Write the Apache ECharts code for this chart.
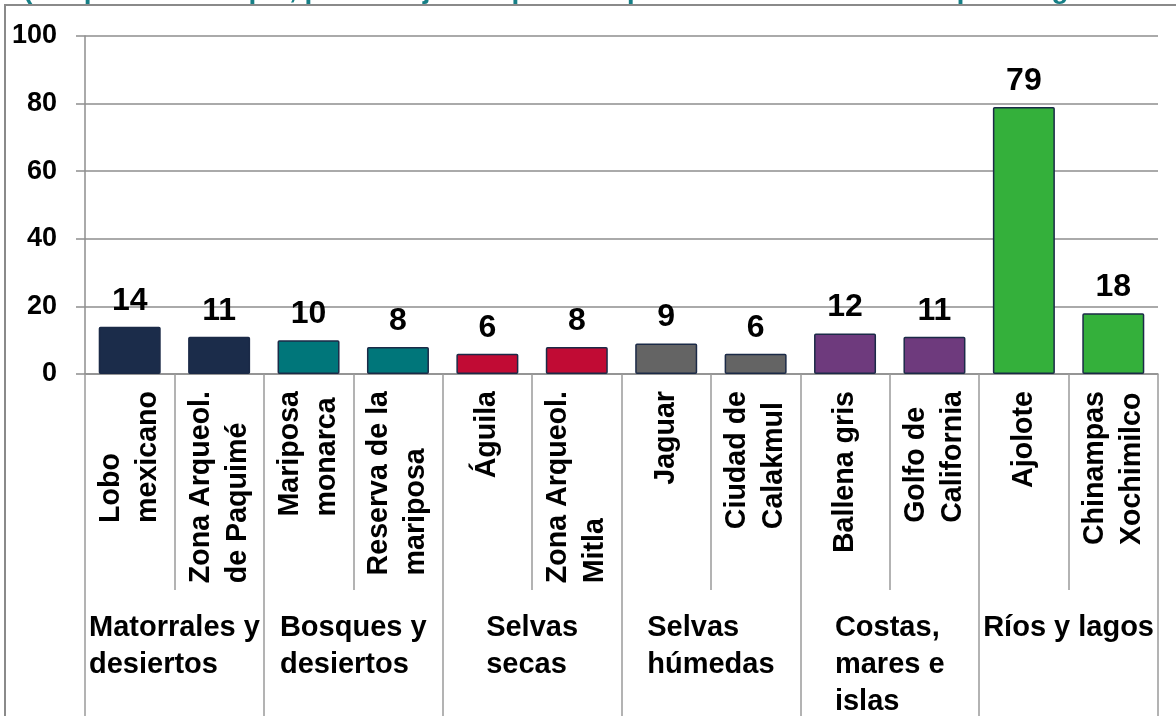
<!DOCTYPE html>
<html>
<head>
<meta charset="utf-8">
<script src="https://cdn.jsdelivr.net/npm/echarts@6/dist/echarts.min.js"></script>
<style>
  html, body { margin: 0; padding: 0; background: #fff; }
  #chart { width: 1176px; height: 716px; }
</style>
</head>
<body>
<div id="chart"></div>
<script>
const titleText = '(Respuesta múltiple, porcentajes respecto a quienes mencionaron lo que les gustaría conocer)';
const habitats = ['Matorrales y\ndesiertos', 'Bosques y\ndesiertos', 'Selvas\nsecas', 'Selvas\nhúmedas', 'Costas,\nmares e\nislas', 'Ríos y lagos'];
const items = [
  'Lobo\nmexicano', 'Zona Arqueol.\nde Paquimé',
  'Mariposa\nmonarca', 'Reserva de la\nmariposa',
  'Águila', 'Zona Arqueol.\nMitla',
  'Jaguar', 'Ciudad de\nCalakmul',
  'Ballena gris', 'Golfo de\nCalifornia',
  'Ajolote', 'Chinampas\nXochimilco'
];
const itemHabitat = [0, 0, 1, 1, 2, 2, 3, 3, 4, 4, 5, 5];
const values = [14, 11, 10, 8, 6, 8, 9, 6, 12, 11, 79, 18];
const yTicks = [0, 20, 40, 60, 80, 100];

// one colour per habitat
const habitatColors = ['#1b2c4a', '#00767a', '#c10b34', '#646464', '#6e3a7d', '#34b03b'];

const font = '"Liberation Sans", Arial, sans-serif';
const gridGray = '#8e8e8e';

// rich tokens so multi-line labels stay left aligned inside their block
const richLines = (tag) => (v) => v.split('\n').map(s => '{' + tag + '|' + s + '}').join('\n');

const chart = echarts.init(document.getElementById('chart'));
chart.setOption({
  animation: false,
  backgroundColor: '#fff',
  title: {
    text: titleText,
    left: 18,
    top: -29,
    textStyle: { color: '#167f86', fontSize: 28, fontWeight: 'bold', fontFamily: font }
  },
  graphic: [{
    type: 'rect',
    shape: { x: 5, y: 5, width: 1300, height: 900 },
    style: { fill: 'none', stroke: '#8a8a8a', lineWidth: 2 },
    silent: true
  }],
  grid: { left: 85, right: 18, top: 36, bottom: 342 },
  yAxis: {
    type: 'value',
    min: yTicks[0],
    max: yTicks[yTicks.length - 1],
    interval: 20,
    axisLine: { show: true, lineStyle: { color: gridGray, width: 1.5 } },
    axisTick: { show: true, length: 9, lineStyle: { color: gridGray, width: 1.5 } },
    splitLine: { show: true, lineStyle: { color: gridGray, width: 1.5 } },
    axisLabel: { color: '#000', fontSize: 27, fontWeight: 'bold', fontFamily: font, margin: 28 }
  },
  xAxis: [
    {
      type: 'category',
      data: items,
      position: 'bottom',
      axisLine: { show: true, lineStyle: { color: gridGray, width: 1.5 } },
      axisTick: { show: true, interval: 0, length: 216, lineStyle: { color: '#9a9a9a', width: 1.5 } },
      axisLabel: {
        interval: 0,
        rotate: 90,
        margin: 17,
        formatter: richLines('a'),
        rich: {
          a: { color: '#000', fontSize: 28.6, fontWeight: 'bold', fontFamily: font, lineHeight: 37, align: 'left' }
        }
      }
    },
    {
      type: 'category',
      data: habitats,
      position: 'bottom',
      axisLine: { show: false },
      axisTick: { show: true, interval: 0, length: 345, lineStyle: { color: '#9a9a9a', width: 1.5 } },
      axisLabel: {
        interval: 0,
        margin: 235,
        align: 'center',
        verticalAlign: 'top',
        formatter: richLines('g'),
        rich: {
          g: { color: '#000', fontSize: 29, fontWeight: 'bold', fontFamily: font, lineHeight: 37, align: 'left' }
        }
      }
    }
  ],
  series: [{
    type: 'bar',
    xAxisIndex: 0,
    barWidth: 62,
    data: values.map((v, i) => ({
      value: v,
      itemStyle: { color: habitatColors[itemHabitat[i]] }
    })),
    itemStyle: { borderColor: '#1b2a47', borderWidth: 1.5, borderRadius: 1 },
    label: {
      show: true,
      position: 'top',
      distance: 10,
      color: '#000',
      fontSize: 32,
      fontWeight: 'bold',
      fontFamily: font
    }
  }]
});
</script>
</body>
</html>
